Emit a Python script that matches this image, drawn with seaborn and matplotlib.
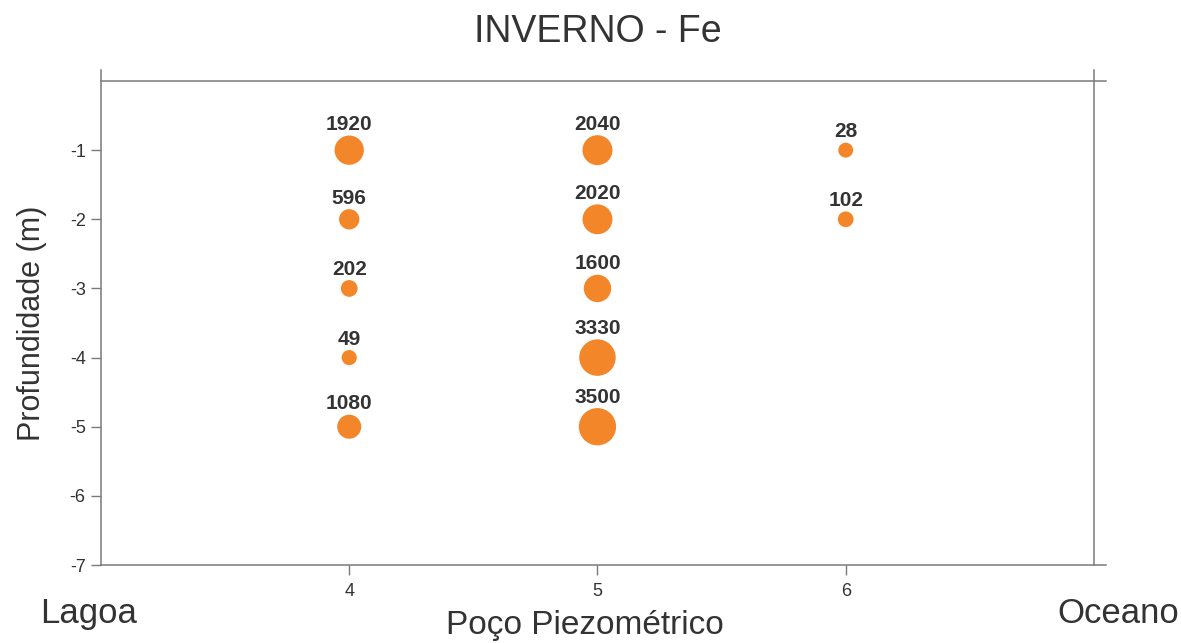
import matplotlib
matplotlib.use("Agg")
import matplotlib.pyplot as plt
import seaborn as sns
import pandas as pd
import numpy as np

# Fe concentration by well (poço) and depth
wells = [4, 4, 4, 4, 4, 5, 5, 5, 5, 5, 6, 6]
depths = [-1, -2, -3, -4, -5, -1, -2, -3, -4, -5, -1, -2]
fe_values = [1920, 596, 202, 49, 1080, 2040, 2020, 1600, 3330, 3500, 28, 102]

x_ticks = [4, 5, 6]
y_ticks = [-1, -2, -3, -4, -5, -6, -7]

df = pd.DataFrame({"poco": wells, "prof": depths, "fe": fe_values})

sns.set_style("white")
plt.rcParams["font.family"] = ["Liberation Sans", "DejaVu Sans"]
plt.rcParams["axes.unicode_minus"] = False

text_color = "#333333"
spine_color = "#7a7a7a"
orange = "#F4862A"
size_range = (115, 720)

fig, ax = plt.subplots(figsize=(11.81, 6.43), dpi=100)
fig.subplots_adjust(left=0.0855, right=0.9263, top=0.874, bottom=0.1213)

sns.scatterplot(data=df, x="poco", y="prof", size="fe", sizes=size_range,
                color=orange, edgecolor="none", legend=False, ax=ax, zorder=3)

# labels above each bubble, offset by bubble radius
vmin, vmax = df["fe"].min(), df["fe"].max()
for _, row in df.iterrows():
    area = size_range[0] + (row["fe"] - vmin) / (vmax - vmin) * (size_range[1] - size_range[0])
    off = np.sqrt(area) / 2 + 1.0
    ax.annotate(f"{row['fe']:g}", (row["poco"], row["prof"]), xytext=(0, off),
                textcoords="offset points", ha="center", va="bottom",
                fontsize=15, fontweight="bold", color=text_color)

ax.set_xlim(3, 7)
ax.set_ylim(-7, 0)
ax.set_xticks(x_ticks)
ax.set_yticks(y_ticks)
ax.tick_params(axis="both", direction="out", length=7, width=1, color=spine_color,
               labelsize=13, labelcolor=text_color, pad=4,
               left=True, bottom=True)
ax.tick_params(axis="x", pad=6)

for side in ["left", "right", "top", "bottom"]:
    ax.spines[side].set_visible(True)
    ax.spines[side].set_color(spine_color)
    ax.spines[side].set_linewidth(1.1)
ax.spines["left"].set_bounds(-7, 0.16)
ax.spines["right"].set_bounds(-7, 0.16)
ax.spines["top"].set_bounds(3, 7.05)
ax.spines["bottom"].set_bounds(3, 7.05)

ax.set_xlabel("")
ax.set_ylabel("Profundidade (m)", fontsize=22, color=text_color, labelpad=16)
ax.set_title("INVERNO - Fe", fontsize=27, color=text_color, pad=28)

fig.text(0.495, 0.027, "Poço Piezométrico", fontsize=24, color=text_color,
         ha="center", va="center")
fig.text(0.034, 0.046, "Lagoa", fontsize=25, color=text_color, ha="left", va="center")
fig.text(0.998, 0.046, "Oceano", fontsize=25, color=text_color, ha="right", va="center")

fig.savefig("out.png", dpi=100)
